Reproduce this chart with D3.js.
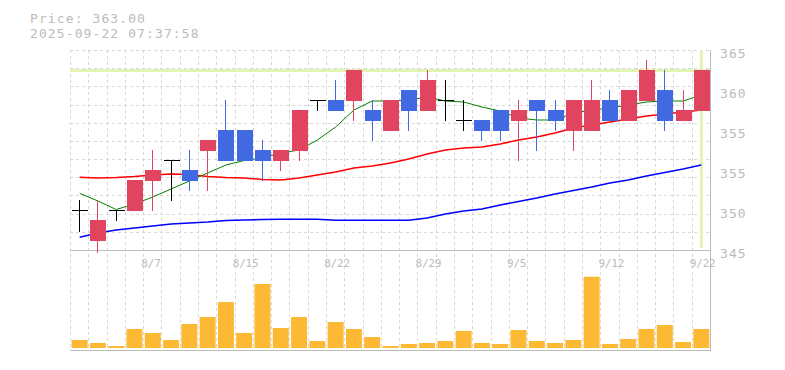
<!DOCTYPE html>
<html>
<head>
<meta charset="utf-8">
<script src="https://cdn.jsdelivr.net/npm/d3@7"></script>
<style>
  html, body { margin: 0; padding: 0; background: #fff; }
  svg { display: block; }
  .t { font-family: "DejaVu Sans Mono", "Liberation Mono", monospace; fill: #bbb; }
</style>
</head>
<body>
<svg id="chart" width="785" height="370"></svg>
<script>
// ---------- data ----------
const titlePrice = "Price: 363.00";
const titleTime = "2025-09-22 07:37:58";
const currentPrice = 363;

const dates = ["8/1","8/4","8/5","8/6","8/7","8/8","8/12","8/13","8/14","8/15",
  "8/18","8/19","8/20","8/21","8/22","8/25","8/26","8/27","8/28","8/29",
  "9/1","9/2","9/3","9/4","9/5","9/8","9/9","9/10","9/11","9/12",
  "9/16","9/17","9/18","9/19","9/22"];

const opens  = [349,346,349,349,352,354,353,355,357,357,355,354,355,360,360,360,359,357,361,359,360,358,358,359,358,360,359,357,357,360,358,360,361,358,359];
const highs  = [350,350,349,352,355,354,355,356,360,357,356,355,359,360,362,363,360,360,361,363,362,360,358,359,360,360,360,360,362,361,361,364,363,361,363];
const lows   = [346.9,344.8,348,349,349,350,351,351,354,354,352,353,354,359,359,358,356,357,357,359,358,357,356,356,354,355,357,355,357,358,358,360,357,358,359];
const closes = [349,348,349,352,353,354,352,356,354,354,354,355,359,360,359,363,358,360,359,362,360,358,357,357,359,359,358,360,360,358,361,363,358,359,363];

const maShort = [350.67,349.9,349.05,349.6,350.3,351.1,351.9,352.7,353.5,353.95,354.2,354.7,355.0,356.0,357.3,359.0,359.9,359.9,360.0,360.3,359.9,359.8,359.3,358.9,358.2,358.0,358.0,358.7,359.0,359.2,359.5,359.8,359.9,359.9,360.5];
const maMid   = [352.27,352.2,352.25,352.35,352.5,352.6,352.55,352.35,352.25,352.2,352.05,352.0,352.2,352.5,352.8,353.2,353.4,353.7,354.1,354.6,355.0,355.2,355.3,355.6,356.0,356.3,356.7,357.2,357.5,357.8,358.1,358.4,358.6,358.8,359.0];
const maLong  = [346.27,346.7,347.0,347.2,347.4,347.6,347.7,347.8,347.95,348.0,348.05,348.07,348.07,348.07,347.97,347.97,347.97,347.97,347.97,348.2,348.6,348.9,349.1,349.5,349.85,350.2,350.6,350.95,351.3,351.7,352.0,352.4,352.75,353.1,353.5];

const volumes = [800,500,200,1900,1500,800,2400,3100,4600,1500,6400,2000,3100,700,2600,1900,1100,200,400,500,700,1700,500,400,1800,700,500,800,7130,400,900,1900,2300,600,1900];

const yTickValues = [365,361,357,353,349,345];
const yTickLabels = ["365","360","355","355","350","345"];
const xTickDates  = ["8/7","8/15","8/22","8/29","9/5","9/12","9/22"];

// ---------- layout ----------
const L = 70, R = 710, PT = 50, PB = 250, VB = 350, VBase = 348;
const svg = d3.select("#chart");

const x = d3.scaleBand().domain(dates).range([L, R]).padding(0);
const y = d3.scaleLinear().domain([345, 365]).range([PB, PT]);
const yv = d3.scaleLinear().domain([0, 10000]).range([VBase, VBase - 100]);
const cx = d => x(d) + x.bandwidth() / 2 + 0.5;
const bodyW = 16;

// grid
const grid = svg.append("g").attr("stroke", "#d8d8d8").attr("stroke-dasharray", "3,3").attr("stroke-width", 1)
  .attr("shape-rendering", "crispEdges");
d3.range(dates.length).forEach(i => {
  const gx = Math.round(L + i * x.bandwidth()) + 0.5;
  grid.append("line").attr("x1", gx).attr("x2", gx).attr("y1", PT).attr("y2", VB);
});
d3.range(11).forEach(j => {
  const gy = Math.round(PT + j * (PB - PT) / 11) + 0.5;
  grid.append("line").attr("x1", L).attr("x2", R).attr("y1", gy).attr("y2", gy);
});

// current price highlight lines
svg.append("line").attr("x1", L).attr("x2", R).attr("y1", y(currentPrice) + 0.5).attr("y2", y(currentPrice) + 0.5)
  .attr("stroke", "#e3f3b3").attr("stroke-width", 3);
svg.append("line").attr("x1", cx(dates[dates.length - 1])).attr("x2", cx(dates[dates.length - 1]))
  .attr("y1", PT).attr("y2", PB - 2).attr("stroke", "#e3f3b3").attr("stroke-width", 3);

// axes frame
const frame = svg.append("g").attr("stroke", "#bbb").attr("stroke-width", 1).attr("shape-rendering", "crispEdges");
frame.append("line").attr("x1", L).attr("x2", R + 0.5).attr("y1", PB + 0.5).attr("y2", PB + 0.5);
frame.append("line").attr("x1", L).attr("x2", R + 0.5).attr("y1", VB + 0.5).attr("y2", VB + 0.5);
frame.append("line").attr("x1", R + 0.5).attr("x2", R + 0.5).attr("y1", PT).attr("y2", VB + 0.5);

// volume bars
svg.append("g").selectAll("rect").data(volumes).join("rect")
  .attr("x", (v, i) => cx(dates[i]) - bodyW / 2)
  .attr("width", bodyW)
  .attr("y", v => yv(v))
  .attr("height", v => VBase - yv(v))
  .attr("fill", "#fdb933");

// moving averages
const lineGen = arr => d3.line().x((v, i) => cx(dates[i])).y(v => y(v))(arr);
svg.append("path").attr("d", lineGen(maLong)).attr("fill", "none").attr("stroke", "#0000ff").attr("stroke-width", 1.5);
svg.append("path").attr("d", lineGen(maMid)).attr("fill", "none").attr("stroke", "#ff0000").attr("stroke-width", 1.5);
svg.append("path").attr("d", lineGen(maShort)).attr("fill", "none").attr("stroke", "#008000").attr("stroke-width", 1);

// candles
const cg = svg.append("g").attr("shape-rendering", "crispEdges");
dates.forEach((d, i) => {
  const o = opens[i], c = closes[i], h = highs[i], l = lows[i];
  const col = c > o ? "#e1445f" : (c < o ? "#4169e1" : "#000");
  const xc = Math.floor(cx(d)) + 0.5;
  cg.append("line").attr("x1", xc).attr("x2", xc).attr("y1", y(h)).attr("y2", y(l) + 1)
    .attr("stroke", col).attr("stroke-width", 1);
  if (c === o) {
    cg.append("line").attr("x1", xc - bodyW / 2).attr("x2", xc + bodyW / 2)
      .attr("y1", y(o) + 0.5).attr("y2", y(o) + 0.5).attr("stroke", col).attr("stroke-width", 1.5);
  } else {
    cg.append("rect").attr("x", xc - bodyW / 2).attr("width", bodyW)
      .attr("y", y(Math.max(o, c))).attr("height", Math.abs(y(o) - y(c)) + 1)
      .attr("fill", col);
  }
});

// y axis labels
svg.append("g").selectAll("text").data(yTickValues).join("text")
  .attr("class", "t").attr("x", 720).attr("y", v => y(v) + 8)
  .attr("font-size", 13).attr("letter-spacing", "1.1px")
  .text((v, i) => yTickLabels[i]);

// x axis labels
svg.append("g").selectAll("text").data(xTickDates).join("text")
  .attr("class", "t").attr("x", d => cx(d) - 11.5).attr("y", 266.5)
  .attr("font-size", 11).attr("letter-spacing", "-0.2px")
  .text(d => d);

// title
svg.append("text").attr("class", "t").attr("x", 30).attr("y", 22.5)
  .attr("font-size", 13).attr("letter-spacing", "1.1px").text(titlePrice);
svg.append("text").attr("class", "t").attr("x", 30).attr("y", 38)
  .attr("font-size", 13).attr("letter-spacing", "1.1px").text(titleTime);
</script>
</body>
</html>
